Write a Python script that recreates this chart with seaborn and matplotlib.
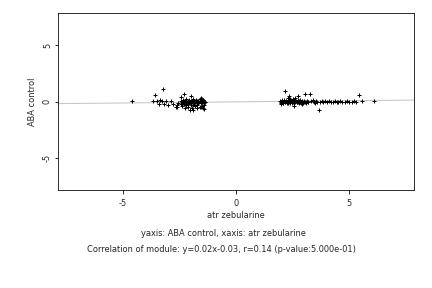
import matplotlib
matplotlib.use("Agg")
import matplotlib.pyplot as plt
import seaborn as sns
import pandas as pd

# --- data ---
left_sparse_x = [-4.6, -3.55, -3.22, -3.65, -3.5, -3.4, -3.28, -3.19, -3.1, -3.0, -2.87, -2.78,
                 -2.63, -2.58, -2.6, -2.44, -2.27, -2.0, -2.36, -2.03, -1.88, -1.52, -1.41, -2.55, -3.35]
left_sparse_y = [0.02, 0.62, 1.09, 0.05, 0.02, -0.21, 0.07, -0.21, 0.07, -0.29, 0.04, -0.21,
                 -0.53, -0.29, -0.45, 0.41, 0.65, 0.53, -0.41, -0.71, -0.77, 0.35, -0.68, -0.1, 0.1]

left_dense_x = [-2.42, -2.38, -2.35, -2.31, -2.28, -2.25, -2.21, -2.18, -2.15, -2.12, -2.08, -2.05,
                -2.02, -1.98, -1.95, -1.92, -1.89, -1.86, -1.83, -1.80, -1.77, -1.74, -1.71, -1.68,
                -1.65, -1.62, -1.59, -1.56, -1.53, -1.50, -1.47, -1.44, -1.41, -1.38, -1.35,
                -2.4, -2.3, -2.2, -2.1, -2.0, -1.9, -1.8, -1.7, -1.6, -1.5, -1.42,
                -2.35, -2.2, -2.05, -1.9, -1.75, -1.6, -1.5, -1.45,
                -2.25, -2.1, -1.95, -1.7, -1.55, -1.45,
                -2.33, -2.16, -1.97, -1.84, -1.66, -1.52, -1.39]
left_dense_y = [0.02, -0.03, 0.05, -0.02, 0.0, 0.04, -0.05, 0.01, -0.04, 0.03, -0.01, 0.05,
                -0.06, 0.02, -0.03, 0.04, 0.0, -0.05, 0.03, -0.02, 0.05, -0.04, 0.01, -0.06,
                0.03, -0.02, 0.04, -0.05, 0.02, -0.03, 0.05, -0.01, 0.03, -0.04, 0.0,
                -0.18, -0.25, -0.3, -0.2, -0.35, -0.28, -0.4, -0.3, -0.45, -0.38, -0.3,
                0.15, 0.2, 0.12, 0.18, 0.1, 0.22, 0.25, 0.15,
                -0.55, -0.5, -0.6, -0.55, -0.5, -0.6,
                -0.12, -0.1, -0.14, -0.12, -0.15, -0.1, -0.13]

right_sparse_x = [2.15, 2.28, 2.34, 2.72, 3.03, 3.26, 3.66, 2.55, 2.93, 5.45, 5.58, 6.08,
                  2.5, 2.4, 2.6, 2.0, 2.1, 2.25, 3.4, 3.5]
right_sparse_y = [0.94, 0.35, 0.47, 0.5, 0.65, 0.65, -0.71, -0.36, -0.24, 0.56, 0.04, 0.03,
                  0.2, 0.25, 0.3, -0.2, -0.15, -0.15, 0.1, -0.1]

right_dense_x = [1.95, 2.0, 2.05, 2.1, 2.15, 2.2, 2.25, 2.3, 2.35, 2.4, 2.45, 2.5, 2.55, 2.6,
                 2.65, 2.7, 2.75, 2.8, 2.85, 2.9, 2.95, 3.0, 3.05, 3.1, 3.15, 3.2,
                 1.98, 2.08, 2.18, 2.28, 2.38, 2.48, 2.58, 2.68, 2.78, 2.88, 2.98, 3.08, 3.18,
                 2.02, 2.12, 2.22, 2.32, 2.42, 2.52, 2.62, 2.72, 2.82,
                 3.3, 3.45, 3.55, 3.6, 3.7, 3.8, 3.85, 3.95, 4.0, 4.1, 4.2, 4.3, 4.35, 4.45,
                 4.5, 4.6, 4.7, 4.8, 4.9, 5.0, 5.1, 5.2, 5.3]
right_dense_y = [0.02, -0.03, 0.04, 0.0, -0.02, 0.05, -0.04, 0.02, 0.0, -0.03, 0.04, -0.01,
                 0.03, -0.04, 0.02, 0.0, -0.03, 0.05, -0.02, 0.01, -0.04, 0.03, 0.0, -0.02,
                 0.04, -0.01,
                 -0.1, -0.12, -0.08, -0.11, -0.09, -0.13, -0.1, -0.08, -0.12, -0.1, -0.09, -0.11, -0.08,
                 0.1, 0.12, 0.09, 0.11, 0.13, 0.1, 0.08, 0.12, 0.1,
                 0.02, -0.03, 0.04, 0.0, -0.05, 0.03, -0.02, 0.01, -0.04, 0.02, 0.0, -0.03,
                 0.04, 0.0, -0.02, 0.03, 0.0, -0.01, 0.02, 0.0, -0.03, 0.01, 0.0]

atr_zebularine = left_sparse_x + left_dense_x + right_sparse_x + right_dense_x
aba_control = left_sparse_y + left_dense_y + right_sparse_y + right_dense_y

slope = 0.02
intercept = -0.03
x_ticks = [-5, 0, 5]
y_ticks = [-5, 0, 5]
lim = 7.85
fs = 8.3

sns.set_theme(style="white")
plt.rcParams['font.family'] = ['DejaVu Sans']

fig = plt.figure(figsize=(6, 4), dpi=72)
ax = fig.add_axes([0.134, 0.340, 0.824, 0.615])

df = pd.DataFrame({"x": atr_zebularine, "y": aba_control})
line_x = [-lim, lim]
line_df = pd.DataFrame({"x": line_x, "y": [slope * v + intercept for v in line_x]})
sns.lineplot(data=line_df, x="x", y="y", ax=ax, color="#c4c4c4", linewidth=1.0, zorder=1)
sns.scatterplot(data=df, x="x", y="y", ax=ax, marker="+", color="black", s=24,
                linewidth=1.0, zorder=2)

ax.set_xlim(-lim, lim)
ax.set_ylim(-lim, lim)
ax.set_xticks(x_ticks)
ax.set_yticks(y_ticks)
ax.set_xticklabels([str(t) if t >= 0 else "-" + str(-t) for t in x_ticks], fontsize=fs)
ax.set_yticklabels([str(t) if t >= 0 else "-" + str(-t) for t in y_ticks], fontsize=fs,
                   rotation=90, va="center")
ax.tick_params(axis="x", direction="out", length=3.5, width=0.8, color="black",
               bottom=True, pad=5)
ax.tick_params(axis="y", direction="out", length=3.5, width=0.8, color="black",
               left=True, pad=2.5)
for s in ax.spines.values():
    s.set_color("black")
    s.set_linewidth(0.8)

ax.set_xlabel("atr zebularine", fontsize=fs, labelpad=3)
ax.set_ylabel("ABA control", fontsize=fs, labelpad=6)

fig.text(0.518, 1 - 233 / 288, "yaxis: ABA control, xaxis: atr zebularine",
         ha="center", va="center", fontsize=fs)
fig.text(0.513, 1 - 250 / 288,
         "Correlation of module: y=0.02x-0.03, r=0.14 (p-value:5.000e-01)",
         ha="center", va="center", fontsize=fs)

fig.savefig("out.png", dpi=72)
